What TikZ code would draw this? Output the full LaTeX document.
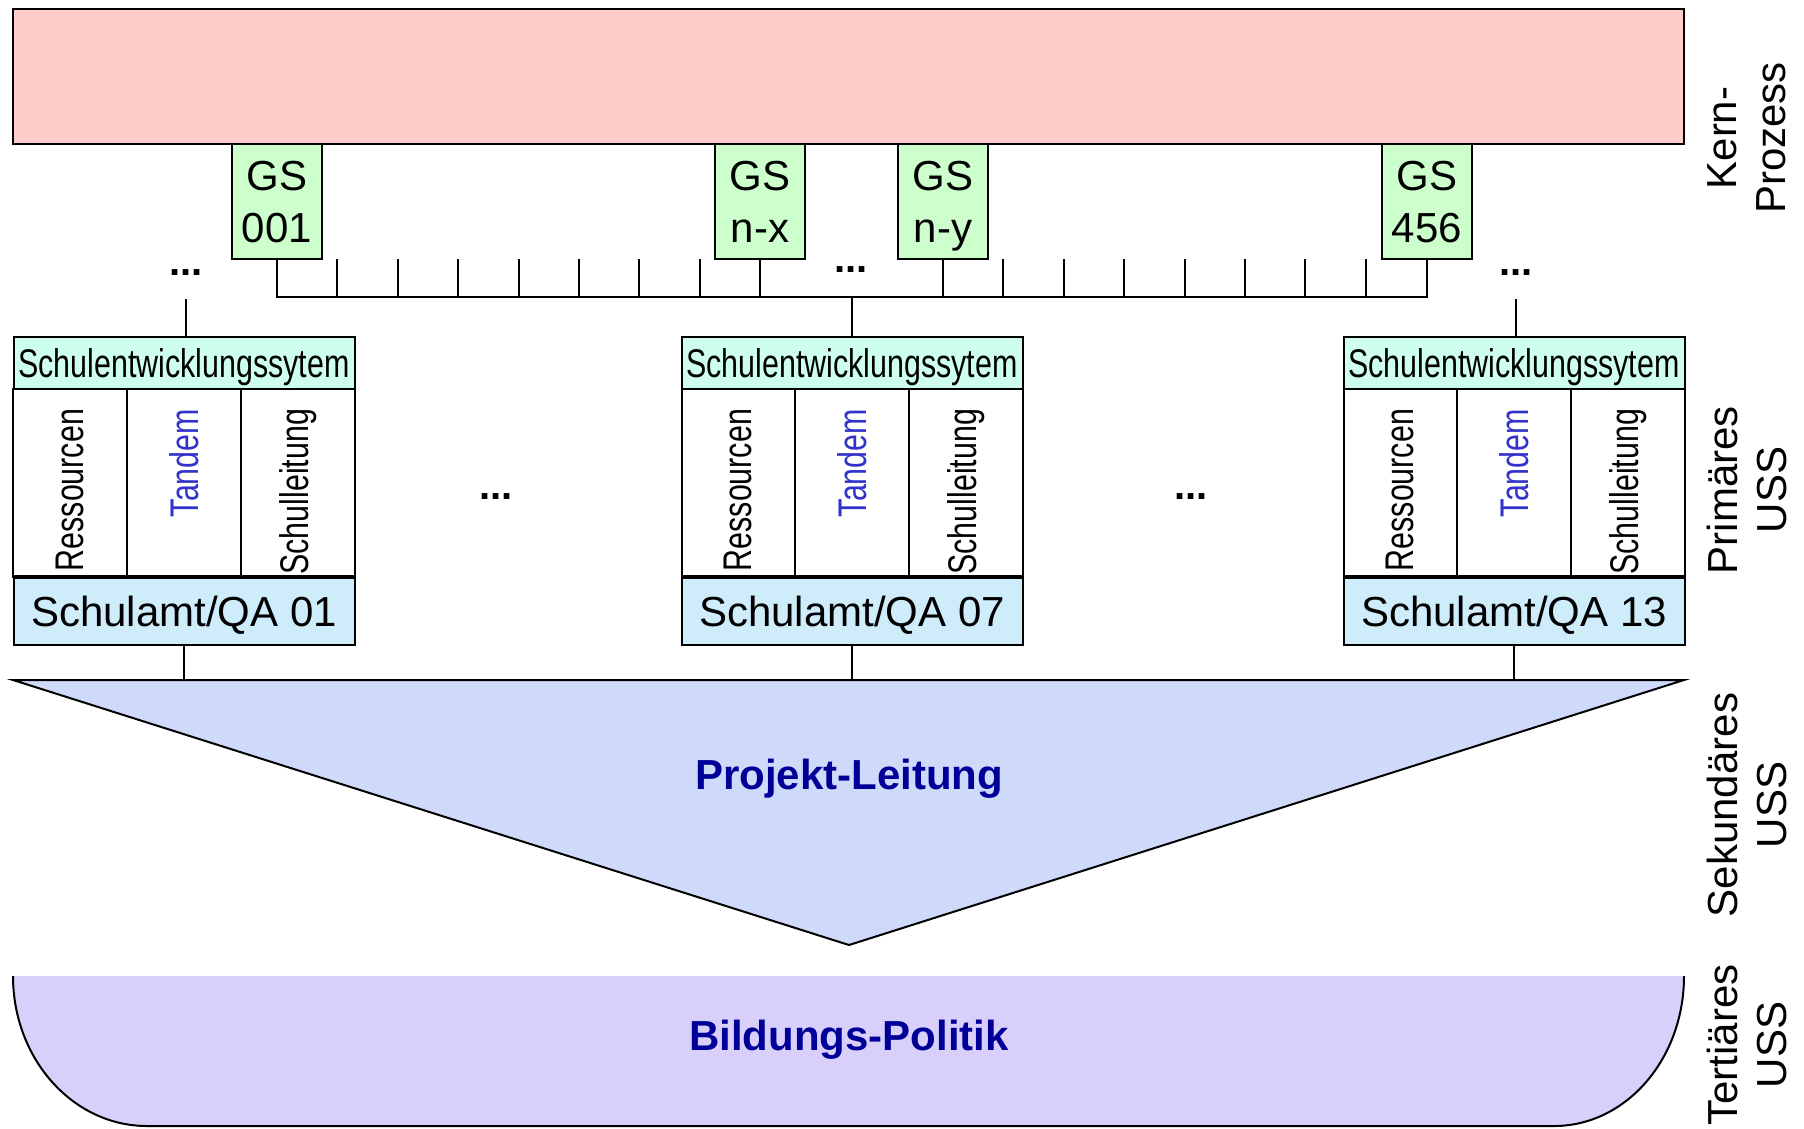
\documentclass[tikz,border=0pt]{standalone}
\usepackage{fontspec}
\setmainfont{Liberation Sans}
\newfontfamily\narrowfont[FakeStretch=0.76]{Liberation Sans}
\usetikzlibrary{positioning}

\definecolor{kernrot}{RGB}{255,204,204}
\definecolor{gsgruen}{RGB}{204,255,204}
\definecolor{kopfgruen}{RGB}{206,255,236}
\definecolor{amtblau}{RGB}{206,236,250}
\definecolor{projblau}{RGB}{207,218,250}
\definecolor{bildlila}{RGB}{216,208,250}
\definecolor{tandem}{RGB}{51,51,204}
\definecolor{dunkelblau}{RGB}{0,0,153}

\newcommand{\gsfont}{\fontsize{42}{52}\selectfont}
\newcommand{\kleinfont}{\narrowfont\fontsize{40}{44}\selectfont}
\newcommand{\amtfont}{\fontsize{42}{48}\selectfont}
\newcommand{\randfont}{\fontsize{42}{49}\selectfont}
\newcommand{\leitfont}{\bfseries\fontsize{42}{48}\selectfont}

% one Schulentwicklungssystem: #1 name, #2 x, #3 number
\newcommand{\schulsystem}[3]{
  \node[kopf] (#1h) at (#2,337) {Schulentwicklungssytem};
  \node[spalte, below=0pt of #1h] (#1t) {};
  \node[spalte, left=0pt of #1t] (#1r) {};
  \node[spalte, right=0pt of #1t] (#1s) {};
  \node[amt, below=0pt of #1t] (#1a) {Schulamt/QA #3};
  \draw[line width=4pt] (#1r.south west) -- (#1s.south east);
  \node[stext] (#1rt) at ([yshift=-19pt]#1r.north) {Ressourcen};
  \node[stext, text=tandem] (#1tt) at ([yshift=-19pt]#1t.north) {Tandem};
  \node[stext] (#1st) at ([yshift=-19pt]#1s.north) {Schulleitung};
}

\tikzset{
  gs/.style={draw, fill=gsgruen, minimum width=90pt, minimum height=115pt,
    inner sep=0pt, outer sep=0pt, align=center, text depth=0pt,
    anchor=north, font=\gsfont},
  kopf/.style={draw, fill=kopfgruen, minimum width=341pt, minimum height=52pt,
    inner sep=0pt, outer sep=0pt, text depth=0pt, anchor=north, font=\kleinfont},
  spalte/.style={draw, minimum width=113.67pt, minimum height=188pt,
    inner sep=0pt, outer sep=0pt},
  amt/.style={draw, fill=amtblau, minimum width=341pt, minimum height=68pt,
    inner sep=0pt, outer sep=0pt, text depth=0pt, font=\amtfont},
  stext/.style={rotate=90, anchor=east, inner sep=0pt, font=\kleinfont},
  punkte/.style={font=\bfseries\fontsize{40}{40}\selectfont, minimum height=50pt, inner sep=0pt},
  rand/.style={rotate=90, align=center, font=\randfont},
  leit/.style={text=dunkelblau, font=\leitfont}
}

\begin{document}
\begin{tikzpicture}[x=1pt, y=-1pt, line width=2pt]
\useasboundingbox (0,0) rectangle (1804,1128);

% Kern-Prozess
\node[draw, fill=kernrot, minimum width=1671pt, minimum height=135pt,
  inner sep=0pt, outer sep=0pt, anchor=north west] (k) at (13,9) {};
\node[gs] (g1) at (277,144) {GS\\001};
\node[gs] (g2) at (760,144) {GS\\n-x};
\node[gs] (g3) at (943,144) {GS\\n-y};
\node[gs] (g4) at (1427,144) {GS\\456};

% Leiste
\draw (g1.south) -- ++(0,38) -| (g4.south);
\draw (g2.south) -- ++(0,38);
\draw (g3.south) -- ++(0,38);
\foreach \i in {1,...,7} {
  \draw ([xshift=\i*60.4pt]g1.south) -- ++(0,38);
  \draw ([xshift=\i*60.4pt]g3.south) -- ++(0,38);
}

% Primaeres USS
\schulsystem{a}{184}{01}
\schulsystem{b}{852}{07}
\schulsystem{c}{1514}{13}

\node[punkte] (d1) at (186,273) {...};
\node[punkte] (d2) at (851,270) {...};
\node[punkte] (d3) at (1516,273) {...};
\node[punkte] (d4) at (496,497) {...};
\node[punkte] (d5) at (1191,497) {...};
\draw (d1.south) -- (d1.south |- ah.north);
\draw (d3.south) -- (d3.south |- ch.north);
\draw (bh.north) -- ++(0,-40);

% Sekundaeres USS
\coordinate (pt) at (849,680);
\draw[fill=projblau] (13,680) -- (1684,680) -- (849,945) -- cycle;
\node[leit] (pl) at (849,779) {Projekt-Leitung};
\draw (aa.south) -- (aa.south |- pt);
\draw (ba.south) -- (ba.south |- pt);
\draw (ca.south) -- (ca.south |- pt);

% Tertiaeres USS
\draw[fill=bildlila] (13,976) .. controls (13,1059) and (73,1126) .. (147,1126)
  -- (1554,1126) .. controls (1626,1126) and (1684,1059) .. (1684,976);
\node[leit] (bp) at (849,1040) {Bildungs-Politik};

% Randbeschriftung
\node[rand] (r1) at (1747,138) {Kern-\\Prozess};
\node[rand] (r2) at (1747,490) {Primäres\\USS};
\node[rand] (r3) at (1747,805) {Sekundäres\\USS};
\node[rand] (r4) at (1747,1045) {Tertiäres\\USS};
\end{tikzpicture}
\end{document}
